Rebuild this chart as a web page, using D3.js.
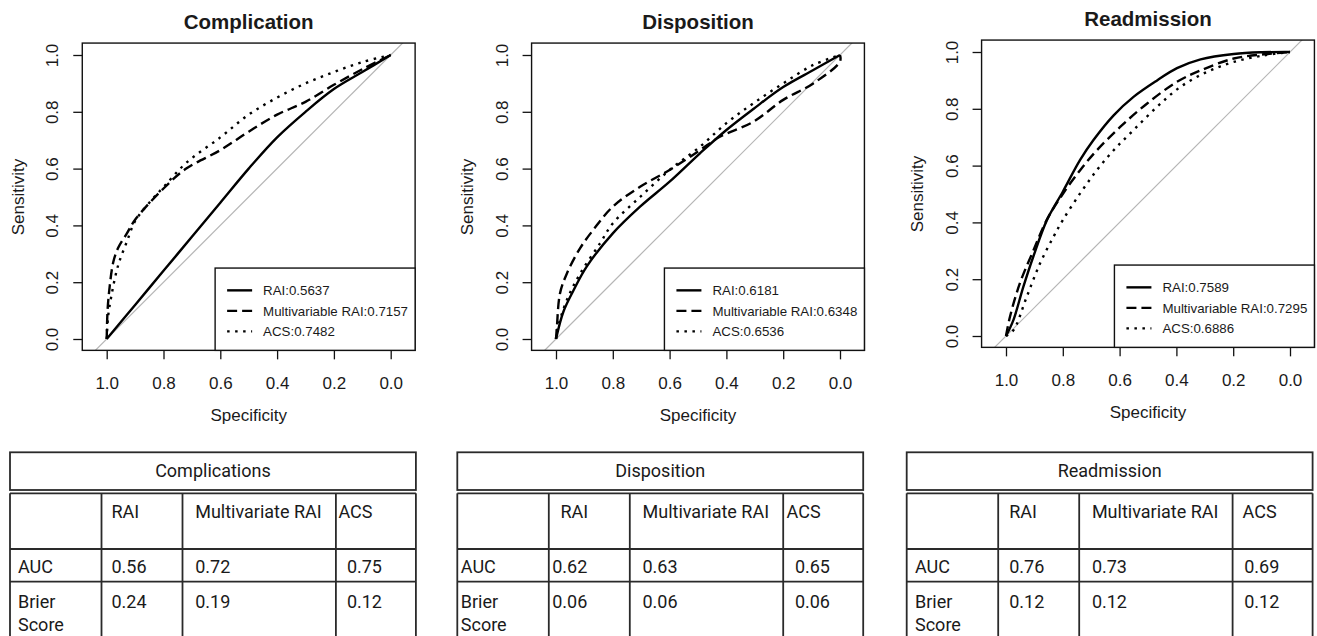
<!DOCTYPE html>
<html>
<head>
<meta charset="utf-8">
<script src="https://cdn.jsdelivr.net/npm/d3@7"></script>
<style>
  body { margin: 0; background: #fff; }
  svg { display: block; font-family: 'Liberation Sans', Arial, sans-serif; }
</style>
</head>
<body>
<svg width="1317" height="636"></svg>
<script>
// chart data
const panelTitles = ['Complication', 'Disposition', 'Readmission'];
const seriesNames = ['RAI', 'Multivariable RAI', 'ACS'];
const legendAuc = [
    [0.5637, 0.7157, 0.7482],
    [0.6181, 0.6348, 0.6536],
    [0.7589, 0.7295, 0.6886],
];
const axisTicks = [1.0, 0.8, 0.6, 0.4, 0.2, 0.0];

// ROC points: [specificity, sensitivity]
const complicationRai = [[1, 0], [0.9, 0.12], [0.8, 0.24], [0.7, 0.36], [0.6, 0.48], [0.5, 0.6], [0.4, 0.71], [0.3, 0.8], [0.2, 0.88], [0.1, 0.94], [0, 1]];
const complicationMulti = [[1, 0], [0.997, 0.1], [0.99, 0.18], [0.977, 0.27], [0.96, 0.32], [0.93, 0.37], [0.9, 0.42], [0.8, 0.53], [0.72, 0.6], [0.6, 0.665], [0.5, 0.73], [0.4, 0.79], [0.3, 0.835], [0.2, 0.895], [0.1, 0.95], [0, 1]];
const complicationAcs = [[1, 0], [0.995, 0.08], [0.982, 0.16], [0.965, 0.24], [0.953, 0.28], [0.93, 0.34], [0.9, 0.415], [0.85, 0.48], [0.8, 0.535], [0.72, 0.62], [0.6, 0.71], [0.5, 0.79], [0.4, 0.85], [0.3, 0.9], [0.2, 0.94], [0.1, 0.975], [0, 1]];

const dispositionRai = [[1, 0], [0.974, 0.096], [0.939, 0.17], [0.892, 0.255], [0.8, 0.372], [0.704, 0.466], [0.6, 0.554], [0.493, 0.654], [0.4, 0.736], [0.305, 0.81], [0.2, 0.887], [0.094, 0.947], [0, 1]];
const dispositionMulti = [[1, 0], [0.997, 0.04], [0.986, 0.16], [0.962, 0.23], [0.915, 0.32], [0.869, 0.384], [0.8, 0.466], [0.704, 0.536], [0.6, 0.595], [0.493, 0.665], [0.423, 0.712], [0.305, 0.765], [0.2, 0.842], [0.094, 0.9], [0, 0.977], [0, 1]];
const dispositionAcs = [[1, 0], [0.996, 0.03], [0.962, 0.137], [0.915, 0.23], [0.845, 0.337], [0.8, 0.407], [0.704, 0.5], [0.6, 0.595], [0.493, 0.677], [0.4, 0.76], [0.305, 0.83], [0.2, 0.9], [0.094, 0.965], [0, 1]];

const readmissionRai = [[1, 0], [0.974, 0.056], [0.939, 0.173], [0.904, 0.279], [0.856, 0.408], [0.8, 0.508], [0.739, 0.62], [0.692, 0.69], [0.621, 0.777], [0.551, 0.842], [0.468, 0.9], [0.398, 0.943], [0.315, 0.974], [0.198, 0.993], [0.1, 0.999], [0, 1]];
const readmissionMulti = [[1, 0], [0.986, 0.068], [0.951, 0.186], [0.904, 0.3], [0.856, 0.41], [0.8, 0.5], [0.739, 0.584], [0.68, 0.654], [0.598, 0.736], [0.504, 0.818], [0.398, 0.895], [0.315, 0.935], [0.198, 0.977], [0.092, 0.992], [0, 1]];
const readmissionAcs = [[1, 0], [0.974, 0.02], [0.927, 0.138], [0.88, 0.256], [0.833, 0.349], [0.8, 0.408], [0.739, 0.502], [0.68, 0.584], [0.621, 0.654], [0.551, 0.725], [0.468, 0.807], [0.386, 0.877], [0.292, 0.93], [0.198, 0.965], [0.092, 0.988], [0, 1]];

const curves = [
    [complicationRai, complicationMulti, complicationAcs],
    [dispositionRai, dispositionMulti, dispositionAcs],
    [readmissionRai, readmissionMulti, readmissionAcs],
];

// table data
const tableTitles = ['Complications', 'Disposition', 'Readmission'];
const tableHeaders = ['', 'RAI', 'Multivariate RAI', 'ACS'];
const aucValues = [['0.56', '0.72', '0.75'], ['0.62', '0.63', '0.65'], ['0.76', '0.73', '0.69']];
const brierValues = [['0.24', '0.19', '0.12'], ['0.06', '0.06', '0.06'], ['0.12', '0.12', '0.12']];

// layout
const unit = 284;
const panelPos = [
    { x1: 106.7, y0: 339 },
    { x1: 556, y0: 339 },
    { x1: 1006, y0: 336 },
];
const dashes = [null, '10,5', '2.5,5.5'];
const tableLeft = [10, 457.3, 906.7];
const colWidths = [91.5, 81, 153.4, 80];
const firstPad = [8, 3.5, 8.3];
const headPad = [[10, 12.7, 2.5], [11.7, 12.7, 3.4], [11, 12.7, 10]];
const valuePad = [[10, 12.7, 11], [3.4, 12.7, 11.7], [11, 12.7, 11.6]];
const textColor = '#1a1a1a';

const svg = d3.select('svg');

panelTitles.forEach((title, i) => {
    const p = panelPos[i];
    const x = d3.scaleLinear().domain([1, 0]).range([p.x1, p.x1 + unit]);
    const y = d3.scaleLinear().domain([0, 1]).range([p.y0, p.y0 - unit]);

    const boxL = x(1.086), boxR = x(-0.086);
    const boxT = y(1.042), boxB = y(-0.04);

    const g = svg.append('g');

    g.append('clipPath')
        .attr('id', 'clip' + i)
        .append('rect')
        .attr('x', boxL).attr('y', boxT)
        .attr('width', boxR - boxL).attr('height', boxB - boxT);

    // reference diagonal
    g.append('line')
        .attr('clip-path', `url(#clip${i})`)
        .attr('x1', x(1.2)).attr('y1', y(-0.2))
        .attr('x2', x(-0.2)).attr('y2', y(1.2))
        .attr('stroke', '#b5b5b5')
        .attr('stroke-width', 1.2);

    // curves
    const line = d3.line()
        .x((d) => x(d[0]))
        .y((d) => y(d[1]))
        .curve(d3.curveCatmullRom.alpha(0.5));

    curves[i].forEach((pts, k) => {
        g.append('path')
            .datum(pts)
            .attr('clip-path', `url(#clip${i})`)
            .attr('d', line)
            .attr('fill', 'none')
            .attr('stroke', '#000')
            .attr('stroke-width', 2.4)
            .attr('stroke-dasharray', dashes[k]);
    });

    // x axis
    const xa = g.append('g')
        .attr('transform', `translate(0,${boxB})`)
        .call(d3.axisBottom(x).tickValues(axisTicks).tickSize(9).tickPadding(18).tickFormat(d3.format('.1f')));
    xa.select('.domain').remove();
    xa.selectAll('line').attr('stroke', '#111').attr('stroke-width', 1.3);
    xa.selectAll('text').attr('font-size', 17).attr('fill', textColor).attr('font-family', null);

    // y axis
    const ya = g.append('g')
        .attr('transform', `translate(${boxL},0)`)
        .call(d3.axisLeft(y).tickValues(axisTicks).tickSize(9).tickFormat(d3.format('.1f')));
    ya.select('.domain').remove();
    ya.selectAll('line').attr('stroke', '#111').attr('stroke-width', 1.3);
    ya.selectAll('text')
        .attr('x', 0).attr('dy', 0)
        .attr('text-anchor', 'middle')
        .attr('transform', 'translate(-24,0) rotate(-90)')
        .attr('font-size', 17).attr('fill', textColor).attr('font-family', null);

    // box
    g.append('rect')
        .attr('x', boxL).attr('y', boxT)
        .attr('width', boxR - boxL).attr('height', boxB - boxT)
        .attr('fill', 'none')
        .attr('stroke', '#111')
        .attr('stroke-width', 1.4);

    // title and axis labels
    g.append('text')
        .attr('x', x(0.5)).attr('y', boxT - 14)
        .attr('text-anchor', 'middle')
        .attr('font-size', 20.5).attr('font-weight', 'bold')
        .attr('fill', textColor)
        .text(title);

    g.append('text')
        .attr('x', x(0.5)).attr('y', boxB + 70.5)
        .attr('text-anchor', 'middle')
        .attr('font-size', 17).attr('fill', textColor)
        .text('Specificity');

    g.append('text')
        .attr('transform', `translate(${boxL - 58.5},${y(0.5)}) rotate(-90)`)
        .attr('text-anchor', 'middle')
        .attr('font-size', 17).attr('fill', textColor)
        .text('Sensitivity');

    // legend
    const legW = 200, legH = 82.3;
    const legL = boxR - legW, legT = boxB - legH;
    g.append('rect')
        .attr('x', legL).attr('y', legT)
        .attr('width', legW).attr('height', legH)
        .attr('fill', '#fff')
        .attr('stroke', '#111')
        .attr('stroke-width', 1.4);

    seriesNames.forEach((name, k) => {
        const ry = legT + 22.3 + k * 20.5;
        g.append('line')
            .attr('x1', legL + 12).attr('x2', legL + 37)
            .attr('y1', ry).attr('y2', ry)
            .attr('stroke', '#000')
            .attr('stroke-width', 2.4)
            .attr('stroke-dasharray', dashes[k]);
        g.append('text')
            .attr('x', legL + 48).attr('y', ry + 4.7)
            .attr('font-size', 13.3).attr('fill', textColor)
            .text(`${name}:${d3.format('.4f')(legendAuc[i][k])}`);
    });
});

// tables
tableTitles.forEach((title, i) => {
    const left = tableLeft[i];
    const total = d3.sum(colWidths);
    const colX = [left];
    colWidths.forEach((w, c) => colX.push(colX[c] + w));

    const t = svg.append('g')
        .attr('stroke', '#2a2a2a')
        .attr('stroke-width', 1.8);

    // title box
    t.append('rect')
        .attr('x', left).attr('y', 452.3)
        .attr('width', total).attr('height', 37.7)
        .attr('fill', 'none');

    // body lines
    [493.3, 549, 581.7].forEach((ly) => {
        t.append('line')
            .attr('x1', left).attr('x2', left + total)
            .attr('y1', ly).attr('y2', ly);
    });
    colX.forEach((cx) => {
        t.append('line')
            .attr('x1', cx).attr('x2', cx)
            .attr('y1', 493.3).attr('y2', 640);
    });

    const txt = svg.append('g')
        .attr('font-family', 'Roboto, sans-serif')
        .attr('font-size', 18)
        .attr('fill', textColor);

    txt.append('text')
        .attr('x', left + total / 2).attr('y', 477.3)
        .attr('text-anchor', 'middle')
        .text(title);

    tableHeaders.slice(1).forEach((h, c) => {
        txt.append('text')
            .attr('x', colX[c + 1] + headPad[i][c]).attr('y', 518.3)
            .text(h);
    });

    txt.append('text').attr('x', left + firstPad[i]).attr('y', 572.7).text('AUC');
    txt.append('text').attr('x', left + firstPad[i]).attr('y', 608.3).text('Brier');
    txt.append('text').attr('x', left + firstPad[i]).attr('y', 630.7).text('Score');

    aucValues[i].forEach((v, c) => {
        txt.append('text')
            .attr('x', colX[c + 1] + valuePad[i][c]).attr('y', 572.7)
            .text(v);
    });
    brierValues[i].forEach((v, c) => {
        txt.append('text')
            .attr('x', colX[c + 1] + valuePad[i][c]).attr('y', 608.3)
            .text(v);
    });
});
</script>
</body>
</html>
